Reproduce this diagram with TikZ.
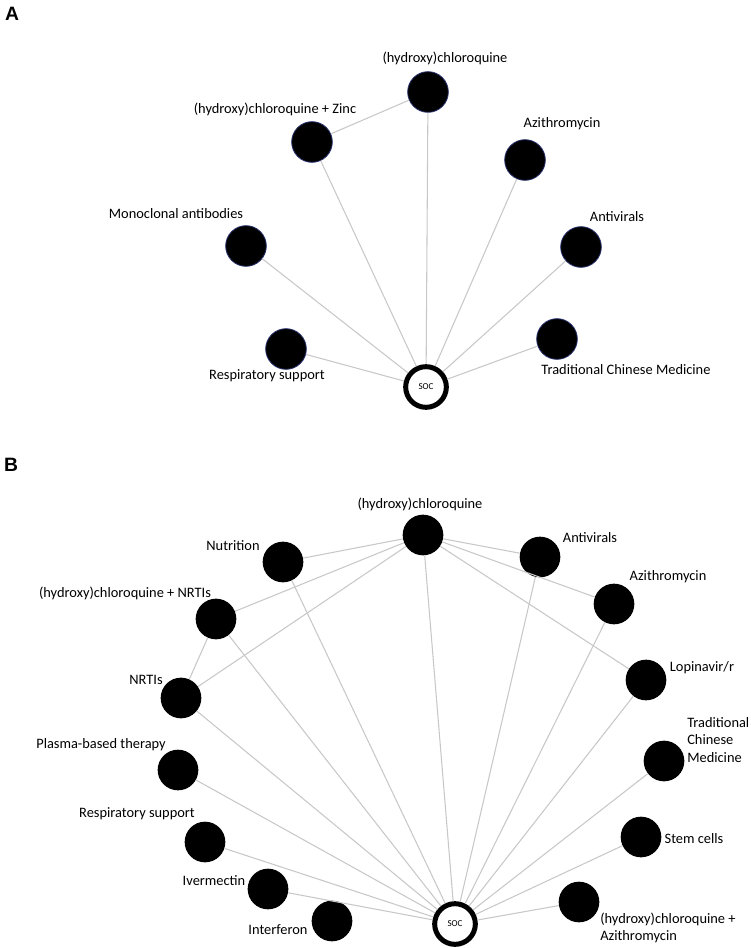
\documentclass[tikz,border=0pt]{standalone}
\usepackage{fontspec}
\setmainfont{Carlito}
\newfontfamily\panelfont{Liberation Sans}
\usetikzlibrary{positioning}
\definecolor{edgegray}{RGB}{200,200,200}
\definecolor{rimblue}{RGB}{40,50,110}

\begin{document}
\begin{tikzpicture}[
    x=0.75pt, y=-0.75pt,
    drug/.style={circle,fill=black,inner sep=0pt,minimum size=30.5pt},
    druga/.style={drug,draw=rimblue,line width=0.6pt},
    soc/.style={circle,draw=black,fill=white,line width=3.75pt,inner sep=0pt,
      minimum size=30.5pt,font=\fontsize{6.8}{7}\selectfont},
    lbl/.style={font=\fontsize{10.8}{13}\selectfont,inner sep=0pt},
    panel/.style={font=\panelfont\bfseries\fontsize{14.5}{16}\selectfont,inner sep=0pt},
    link/.style={draw=edgegray,line width=0.8pt}
  ]
    \useasboundingbox (0,0) rectangle (750,948);

    \node[panel] (panelA) at (12,14) {A};
    \node[druga] (aHcq) at (428,92) {};
    \node[druga] (aHcqZinc) at (312,142) {};
    \node[druga] (aAzi) at (525,160) {};
    \node[druga] (aMab) at (246,246) {};
    \node[druga] (aAntiv) at (581,247) {};
    \node[druga] (aResp) at (286,349) {};
    \node[druga] (aTcm) at (557,339) {};
    \node[soc] (aSoc) at (426,387) {SOC};

    \node[lbl] (aHcqLbl) at (445,58) {(hydroxy)chloroquine};
    \node[lbl] (aHcqZincLbl) at (275,109) {(hydroxy)chloroquine + Zinc};
    \node[lbl] (aAziLbl) at (562,124) {Azithromycin};
    \node[lbl] (aMabLbl) at (176,214) {Monoclonal antibodies};
    \node[lbl] (aAntivLbl) at (617,217) {Antivirals};
    \node[lbl] (aRespLbl) at (267,376) {Respiratory support};
    \node[lbl] (aTcmLbl) at (626,370) {Traditional Chinese Medicine};

    \draw[link] (aHcqZinc) -- (aHcq);
    \draw[link] (aHcq) -- (aSoc);
    \draw[link] (aHcqZinc) -- (aSoc);
    \draw[link] (aAzi) -- (aSoc);
    \draw[link] (aMab) -- (aSoc);
    \draw[link] (aAntiv) -- (aSoc);
    \draw[link] (aResp) -- (aSoc);
    \draw[link] (aTcm) -- (aSoc);

    \node[panel] (panelB) at (11,465) {B};
    \node[drug] (bHcq) at (423,535) {};
    \node[drug] (bNutr) at (283,562) {};
    \node[drug] (bAntiv) at (540,557) {};
    \node[drug] (bHcqNrti) at (216,619) {};
    \node[drug] (bAzi) at (614,604) {};
    \node[drug] (bNrti) at (181,698) {};
    \node[drug] (bLpv) at (646,680) {};
    \node[drug] (bPlasma) at (178,770) {};
    \node[drug] (bTcm) at (664,761) {};
    \node[drug] (bResp) at (205,842) {};
    \node[drug] (bStem) at (641,837) {};
    \node[drug] (bIver) at (268,889) {};
    \node[drug] (bHcqAzi) at (579,902) {};
    \node[drug] (bIfn) at (332,921) {};
    \node[soc] (bSoc) at (455,924) {SOC};

    \node[lbl] (bHcqLbl) at (420,504) {(hydroxy)chloroquine};
    \node[lbl] (bNutrLbl) at (233,546) {Nutrition};
    \node[lbl] (bAntivLbl) at (590,538) {Antivirals};
    \node[lbl] (bHcqNrtiLbl) at (125,593) {(hydroxy)chloroquine + NRTIs};
    \node[lbl] (bAziLbl) at (668,577) {Azithromycin};
    \node[lbl] (bNrtiLbl) at (146,680) {NRTIs};
    \node[lbl] (bLpvLbl) at (702,668) {Lopinavir/r};
    \node[lbl] (bPlasmaLbl) at (101,745) {Plasma-based therapy};
    \node[lbl,anchor=west,align=left] (bTcmLbl) at (687,740) {Traditional\\Chinese\\Medicine};
    \node[lbl] (bRespLbl) at (137,814) {Respiratory support};
    \node[lbl] (bStemLbl) at (694,839) {Stem cells};
    \node[lbl] (bIverLbl) at (214,881) {Ivermectin};
    \node[lbl,anchor=west,align=left] (bHcqAziLbl) at (600,928) {(hydroxy)chloroquine +\\Azithromycin};
    \node[lbl] (bIfnLbl) at (278,930) {Interferon};

    \draw[link] (bHcq) -- (bNutr);
    \draw[link] (bHcq) -- (bHcqNrti);
    \draw[link] (bHcq) -- (bNrti);
    \draw[link] (bHcq) -- (bAntiv);
    \draw[link] (bHcq) -- (bAzi);
    \draw[link] (bHcq) -- (bLpv);
    \draw[link] (bHcqNrti) -- (bNrti);
    \draw[link] (bHcq) -- (bSoc);
    \draw[link] (bNutr) -- (bSoc);
    \draw[link] (bAntiv) -- (bSoc);
    \draw[link] (bHcqNrti) -- (bSoc);
    \draw[link] (bAzi) -- (bSoc);
    \draw[link] (bNrti) -- (bSoc);
    \draw[link] (bLpv) -- (bSoc);
    \draw[link] (bPlasma) -- (bSoc);
    \draw[link] (bTcm) -- (bSoc);
    \draw[link] (bResp) -- (bSoc);
    \draw[link] (bStem) -- (bSoc);
    \draw[link] (bIver) -- (bSoc);
    \draw[link] (bHcqAzi) -- (bSoc);
  \end{tikzpicture}
\end{document}
